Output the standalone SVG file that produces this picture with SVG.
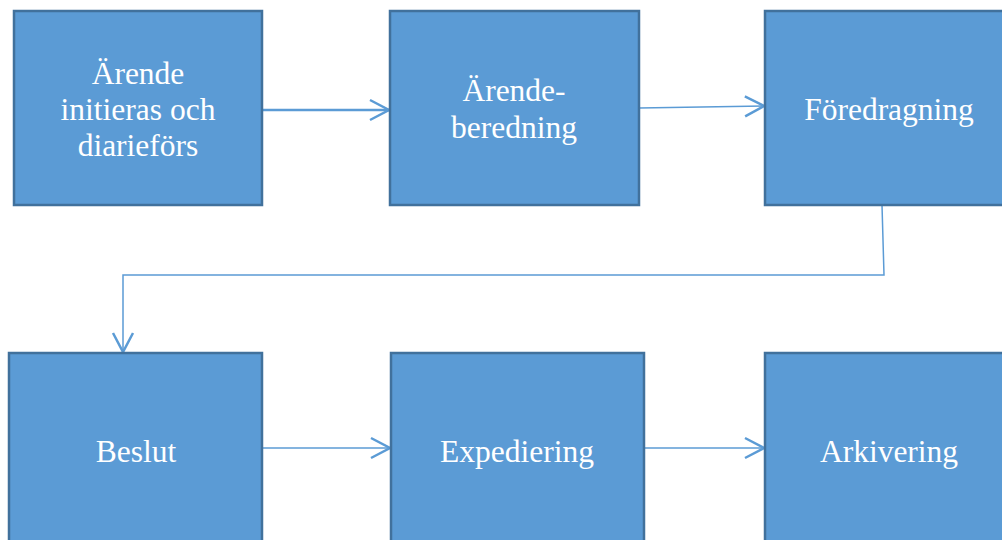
<svg xmlns="http://www.w3.org/2000/svg" width="1002" height="540" viewBox="0 0 1002 540">
<style>
.box{fill:#5B9BD5;stroke:#41719C;stroke-width:2.5}
.lbl{font-family:"Liberation Serif","Times New Roman",serif;font-size:31.5px;fill:#FFFFFF;text-anchor:middle}
.conn{fill:none;stroke:#5B9BD5;stroke-width:1.5}
.thick{stroke-width:2.5}
</style>
<defs>
<marker id="arr" markerWidth="24" markerHeight="24" refX="20" refY="12" orient="auto" markerUnits="userSpaceOnUse">
<path d="M1,2 L20,12 L1,22" fill="none" stroke="#5B9BD5" stroke-width="2.5"/>
</marker>
</defs>
<rect width="1002" height="540" fill="#FFFFFF"/>
<g id="connectors">
<line class="conn thick" x1="262" y1="110" x2="389" y2="110" marker-end="url(#arr)"/>
<line class="conn" x1="639" y1="108" x2="764" y2="106" marker-end="url(#arr)"/>
<polyline class="conn" points="882,205 884,275 123,275 123,352" marker-end="url(#arr)"/>
<line class="conn" x1="262" y1="448" x2="390" y2="448" marker-end="url(#arr)"/>
<line class="conn" x1="644" y1="448" x2="764" y2="448" marker-end="url(#arr)"/>
</g>
<g id="n1">
<rect class="box" x="14" y="11" width="248" height="194"/>
<text class="lbl" x="138" y="84">Ärende</text>
<text class="lbl" x="138" y="120">initieras och</text>
<text class="lbl" x="138" y="156">diarieförs</text>
</g>
<g id="n2">
<rect class="box" x="390" y="11" width="249" height="194"/>
<text class="lbl" x="514" y="101">Ärende-</text>
<text class="lbl" x="514" y="138">beredning</text>
</g>
<g id="n3">
<rect class="box" x="765" y="11" width="249" height="194"/>
<text class="lbl" x="889" y="120">Föredragning</text>
</g>
<g id="n4">
<rect class="box" x="9" y="353" width="253" height="194"/>
<text class="lbl" x="136" y="462">Beslut</text>
</g>
<g id="n5">
<rect class="box" x="391" y="353" width="253" height="194"/>
<text class="lbl" x="517" y="462">Expediering</text>
</g>
<g id="n6">
<rect class="box" x="765" y="353" width="249" height="194"/>
<text class="lbl" x="889" y="462">Arkivering</text>
</g>
</svg>
